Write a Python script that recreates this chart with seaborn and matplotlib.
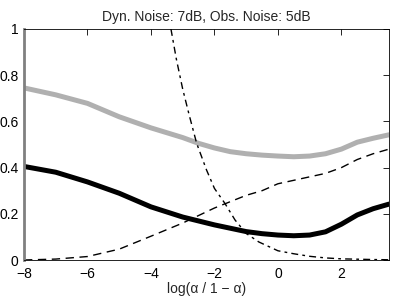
import matplotlib
matplotlib.use("Agg")
import matplotlib.pyplot as plt
import seaborn as sns
import pandas as pd

sns.set_style("white")
plt.rcParams['font.family'] = ['Liberation Sans', 'DejaVu Sans']

title = "Dyn. Noise: 7dB, Obs. Noise: 5dB"
xlabel = "log(α / 1 − α)"

x_gray = [-8, -7, -6, -5, -4, -3, -2.5, -2, -1.5, -1, -0.5, 0, 0.5, 1, 1.5, 2, 2.5, 3, 3.5]
y_gray = [0.745, 0.715, 0.678, 0.62, 0.572, 0.53, 0.505, 0.485, 0.469, 0.46, 0.454, 0.45, 0.447,
          0.45, 0.46, 0.48, 0.51, 0.527, 0.542]

x_black = [-8, -7, -6, -5, -4, -3, -2, -1, -0.5, 0, 0.5, 1, 1.5, 2, 2.5, 3, 3.5]
y_black = [0.405, 0.38, 0.338, 0.289, 0.23, 0.186, 0.152, 0.123, 0.114, 0.108, 0.105, 0.108,
           0.122, 0.155, 0.195, 0.222, 0.242]

x_rise = [-8, -7, -6, -5, -4, -3, -2, -1, -0.5, 0, 0.5, 1, 1.5, 2, 2.5, 3, 3.5]
y_rise = [0.0, 0.004, 0.015, 0.047, 0.103, 0.16, 0.225, 0.28, 0.30, 0.33, 0.345, 0.36, 0.375,
          0.40, 0.435, 0.46, 0.48]

x_fall = [-3.37, -3.2, -3.0, -2.8, -2.56, -2.25, -2.0, -1.67, -1.35, -1.0, -0.6, 0.0, 0.5, 1.0,
          1.5, 2.0, 3.0, 3.5]
y_fall = [1.0, 0.87, 0.74, 0.63, 0.505, 0.39, 0.31, 0.245, 0.173, 0.115, 0.078, 0.04, 0.027,
          0.016, 0.009, 0.005, 0.002, 0.001]

fig = plt.figure(figsize=(3.96, 2.99), dpi=100)
ax = fig.add_axes([24/396, 1-260/299, 365/396, 231/299])

sns.lineplot(data=pd.DataFrame({"x": x_gray, "y": y_gray}), x="x", y="y", ax=ax,
             color="#b0b0b0", linewidth=3.6, sort=False)
sns.lineplot(data=pd.DataFrame({"x": x_black, "y": y_black}), x="x", y="y", ax=ax,
             color="black", linewidth=3.6, sort=False)
sns.lineplot(data=pd.DataFrame({"x": x_rise, "y": y_rise}), x="x", y="y", ax=ax,
             color="black", linewidth=1.0, linestyle=(0, (6, 4)), sort=False)
sns.lineplot(data=pd.DataFrame({"x": x_fall, "y": y_fall}), x="x", y="y", ax=ax,
             color="black", linewidth=1.0, linestyle=(0, (5, 3, 2, 3)), sort=False)

ax.set_xlim(-8, 3.5)
ax.set_ylim(0, 1)
ax.set_xticks([-8, -6, -4, -2, 0, 2])
ax.set_xticklabels(["\u22128", "\u22126", "\u22124", "\u22122", "0", "2"])
ax.set_yticks([0, 0.2, 0.4, 0.6, 0.8, 1])
ax.set_yticklabels(["0", "0.2", "0.4", "0.6", "0.8", "1"])
ax.tick_params(direction="in", top=True, right=True, length=4, width=0.6,
               labelsize=10, colors="black")
ax.tick_params(axis="x", pad=5)
ax.tick_params(axis="y", pad=4)
for s in ax.spines.values():
    s.set_linewidth(0.6)
    s.set_color("black")
ax.spines["left"].set_color("#808080")
ax.spines["left"].set_linewidth(2)
ax.set_xlabel(xlabel, fontsize=10, labelpad=1)
ax.set_ylabel("")
ax.set_title(title, fontsize=10, pad=6)

fig.savefig("out.png", dpi=100)
